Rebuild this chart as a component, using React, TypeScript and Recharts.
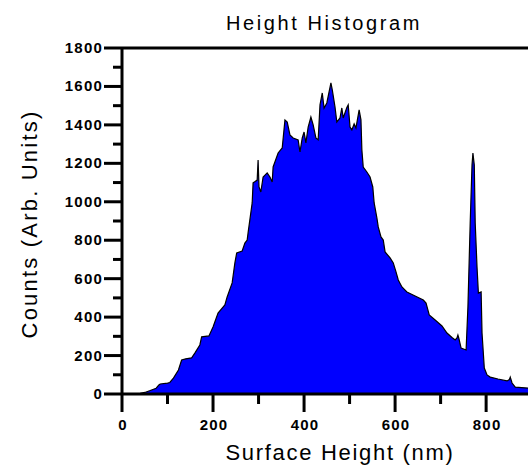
import { AreaChart, Area, XAxis, YAxis, ReferenceLine } from 'recharts';

// surface height bins (nm) and their counts
const heights = [
  0, 30, 40, 50, 62, 75, 81, 84, 100, 105, 113, 124, 131, 140, 153, 160, 171, 175, 191, 200,
  211, 226, 231, 242, 248, 252, 264, 270, 275, 277, 286, 288, 297, 299, 301, 305, 310, 319, 325, 330,
  332, 343, 352, 358, 363, 369, 376, 387, 391, 396, 400, 404, 409, 415, 420, 426, 431, 435, 440, 444,
  450, 459, 462, 468, 472, 479, 483, 486, 494, 497, 501, 505, 510, 514, 521, 525, 527, 530, 538, 545,
  551, 554, 560, 563, 569, 574, 578, 589, 596, 602, 607, 615, 626, 644, 662, 668, 675, 688, 703, 714,
  725, 732, 736, 738, 740, 745, 756, 760, 765, 769, 771, 774, 776, 780, 783, 789, 791, 796, 802, 809,
  826, 846, 851, 853, 857, 864, 892,
];
const counts = [
  0, 0, 3, 8, 18, 30, 47, 52, 57, 60, 83, 125, 177, 183, 188, 213, 255, 297, 302, 349,
  421, 463, 505, 578, 682, 734, 744, 785, 801, 838, 994, 1098, 1113, 1217, 1077, 1051, 1129, 1150, 1129, 1103,
  1181, 1254, 1280, 1426, 1415, 1348, 1332, 1322, 1259, 1332, 1363, 1306, 1389, 1441, 1400, 1332, 1322, 1504, 1566, 1488,
  1514, 1618, 1582, 1493, 1415, 1436, 1488, 1436, 1490, 1504, 1389, 1374, 1405, 1384, 1478, 1426, 1270, 1181, 1155, 1129,
  1077, 994, 916, 869, 817, 801, 739, 708, 682, 635, 593, 557, 531, 510, 489, 473, 411, 385, 354, 317,
  294, 281, 292, 307, 290, 239, 229, 453, 890, 1191, 1254, 1191, 890, 661, 525, 531, 317, 135, 99, 88,
  78, 68, 75, 88, 57, 36, 31,
];

const xTicks = [0, 100, 200, 300, 400, 500, 600, 700, 800];
const yTicks = [0, 100, 200, 300, 400, 500, 600, 700, 800, 900, 1000, 1100, 1200, 1300, 1400, 1500, 1600, 1700, 1800];

const data = heights.map((h, i) => ({ nm: h, count: counts[i] }));

const FONT = '"Liberation Sans", Arial, sans-serif';

const YTick = (props: any) => {
  const { x, y, payload } = props;
  const major = payload.value % 200 === 0;
  return (
    <g>
      <line x1={x - (major ? 18 : 9)} x2={x} y1={y} y2={y} stroke="#000" strokeWidth={3} />
      {major && (
        <text x={x - 19} y={y} dy={5} textAnchor="end" fontFamily={FONT} fontSize={15}
          fontWeight="bold" letterSpacing={1.2} fill="#000">
          {payload.value}
        </text>
      )}
    </g>
  );
};

const XTick = (props: any) => {
  const { x, y, payload } = props;
  const major = payload.value % 200 === 0;
  return (
    <g>
      <line x1={x} x2={x} y1={y} y2={y + (major ? 18 : 10)} stroke="#000" strokeWidth={3} />
      {major && (
        <text x={x + 1} y={y + 36} textAnchor="middle" fontFamily={FONT} fontSize={15}
          fontWeight="bold" letterSpacing={1.2} fill="#000">
          {payload.value}
        </text>
      )}
    </g>
  );
};

export default function App() {
  return (
    <div style={{ position: 'absolute', left: 0, top: 0, width: 528, height: 468, overflow: 'hidden', background: '#fff' }}>
      <AreaChart width={528} height={468} data={data} margin={{ top: 48, right: 0, left: 0, bottom: 0 }}>
        <XAxis dataKey="nm" type="number" domain={[0, 892]} ticks={xTicks} interval={0}
          height={74} tickSize={0} tickMargin={0} tick={<XTick />}
          axisLine={{ stroke: '#000', strokeWidth: 3 }} allowDataOverflow />
        <YAxis type="number" domain={[0, 1800]} ticks={yTicks} interval={0}
          width={122} tickSize={0} tickMargin={0} tick={<YTick />}
          axisLine={{ stroke: '#000', strokeWidth: 3 }} allowDataOverflow />
        <Area type="linear" dataKey="count" stroke="#000" strokeWidth={1.2} fill="#0000ff"
          fillOpacity={1} isAnimationActive={false} dot={false} activeDot={false} />
        <ReferenceLine y={1800} stroke="#000" strokeWidth={3} />
      </AreaChart>
      <svg width={528} height={468} style={{ position: 'absolute', left: 0, top: 0, pointerEvents: 'none' }}>
        <text x={324} y={30} textAnchor="middle" fontFamily={FONT} fontSize={20} letterSpacing={2.6} fill="#000">
          Height Histogram
        </text>
        <text x={340} y={460} textAnchor="middle" fontFamily={FONT} fontSize={22} letterSpacing={1.7} fill="#000">
          Surface Height (nm)
        </text>
        <text transform="translate(37, 224) rotate(-90)" textAnchor="middle" fontFamily={FONT} fontSize={22}
          letterSpacing={2.2} fill="#000">
          Counts (Arb. Units)
        </text>
      </svg>
    </div>
  );
}
